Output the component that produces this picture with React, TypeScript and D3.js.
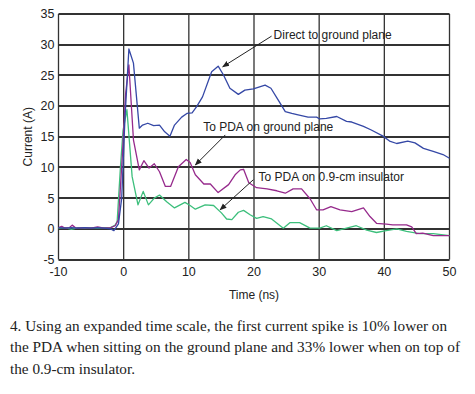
import React, { useEffect, useRef } from 'react';
import * as d3 from 'd3';

// time axis (ns) and current (A)
const directTime = [-10, -9, -8, -7, -6, -5, -4, -3, -2, -1.5, -0.8, -0.3, 0.2, 0.8, 1.5, 2.4, 2.9, 3.7, 4.6, 5.5, 6.3, 7.1, 7.8, 8.9, 9.7, 10.5, 11.2, 12.1, 13.5, 14.5, 15.3, 16.3, 17.6, 18.6, 19.9, 21.7, 22.6, 23.7, 24.8, 25.8, 26.6, 28.3, 29.6, 30.1, 31.1, 32.7, 34.2, 35, 36.8, 38, 39.8, 40.8, 41.9, 43.6, 44.7, 46, 47.5, 49, 50];
const directCurrent = [0.2, 0.1, 0.2, 0.1, 0.2, 0.1, 0.2, 0.1, 0, -0.3, 0.8, 5, 18, 29.3, 27, 16.4, 16.9, 17.2, 16.8, 16.9, 15.8, 15.1, 16.9, 18.2, 18.8, 18.9, 19.9, 21.5, 25.6, 26.5, 25.1, 22.9, 21.9, 22.6, 22.8, 23.4, 22.9, 21, 19.1, 18.8, 18.6, 18.2, 18.2, 17.9, 18, 18.3, 17.5, 17.4, 16.7, 16.1, 15.1, 14.3, 13.9, 14.3, 14, 13.1, 12.6, 12.1, 11.5];

const groundTime = [-10, -9.5, -9, -8.3, -7.9, -7.3, -6, -5, -4, -3, -2, -1.3, -0.8, -0.2, 0.3, 0.8, 1.5, 2.4, 3.1, 3.9, 4.7, 5.5, 6.4, 7.2, 8.4, 9.6, 10.2, 11, 12.3, 13.3, 14.5, 16.1, 17.1, 17.9, 18.4, 19.2, 20.4, 22, 23.5, 24.8, 26, 27.3, 28.6, 29.6, 30.6, 31.8, 33.2, 35, 36.8, 37.8, 38.8, 40.3, 41.3, 43.4, 44.2, 44.9, 45.9, 47.5, 50];
const groundCurrent = [0.2, 0.4, 0.1, 0.2, 0.6, 0.1, 0.2, 0.1, 0.3, 0.1, 0.2, 0.5, 1.5, 12, 22, 26.7, 14.5, 9.6, 11.1, 9.9, 10.6, 9.3, 6.9, 6.9, 10.1, 11.3, 10.8, 8.8, 7.3, 7.3, 5.9, 7.2, 8.8, 9.6, 9.7, 7.5, 6.7, 6.5, 6.2, 5.8, 6.5, 6.5, 4.9, 3.1, 3.1, 3.6, 3.1, 2.8, 3.4, 2, 0.9, 0.75, 0.65, 0.65, 0.3, -0.8, -0.7, -1.1, -1.1];

const insulTime = [-10, -9, -8, -7, -6, -5, -4, -3, -2, -1.3, -1, -0.5, -0.1, 0.5, 1.3, 2.2, 3, 3.8, 4.7, 5.5, 6.6, 7.8, 9.4, 10.2, 11, 12.5, 13.8, 15, 15.8, 16.6, 17.6, 18.4, 19.4, 20.4, 21.4, 22.7, 24.5, 25.5, 27, 28.6, 30.1, 31.1, 32.7, 34.2, 35.7, 37.3, 38.8, 40.3, 41.9, 43.4, 45.4, 47.5, 50];
const insulCurrent = [0.1, 0.2, -0.1, 0.2, 0.1, 0.2, 0.1, 0.2, 0.2, 0.6, 1.2, 10, 16, 19.4, 8.5, 3.9, 6.1, 3.9, 5, 5.5, 4.4, 3.4, 4.3, 3.8, 3.2, 3.9, 3.8, 2.6, 1.6, 1.5, 2.7, 3, 2.3, 1.7, 2, 1.6, 0.1, 1, 1, 0.1, 0.1, 0.5, -0.3, 0.1, 0.5, -0.2, -0.6, -0.3, 0, -0.4, -0.8, -0.8, -1.1];

const xTicks = [-10, 0, 10, 20, 30, 40, 50];
const yTicks = [-5, 0, 5, 10, 15, 20, 25, 30, 35];

const labels = ['Direct to ground plane', 'To PDA on ground plane', 'To PDA on 0.9-cm insulator'];
// label anchor [t, A], arrow start [t, A], arrow tip [t, A]
const labelAt = [[23.0, 31.6], [12.2, 16.6], [20.7, 8.4]];
const arrowFrom = [[22.7, 31.4], [15.6, 15.3], [19.9, 8.0]];
const arrowTo = [[15.2, 26.4], [11.0, 10.4], [14.8, 3.1]];

const caption = [
  '4. Using an expanded time scale, the first current spike is 10% lower on',
  'the PDA when sitting on the ground plane and 33% lower when on top of',
  'the 0.9-cm insulator.',
];

const W = 475, H = 394;
const margin = { top: 14, left: 58.5, right: 25.5, bottom: 134.5 };

export default function App() {
  const ref = useRef<SVGSVGElement>(null);

  useEffect(() => {
    document.body.style.margin = '0';
    const svg = d3.select(ref.current);
    svg.selectAll('*').remove();

    const x = d3.scaleLinear().domain([-10, 50]).range([margin.left, W - margin.right]);
    const y = d3.scaleLinear().domain([-5, 35]).range([H - margin.bottom, margin.top]);

    svg.append('rect').attr('width', W).attr('height', H).attr('fill', '#fff');

    const defs = svg.append('defs');
    defs.append('marker')
      .attr('id', 'arrow')
      .attr('viewBox', '0 0 10 10')
      .attr('refX', 9).attr('refY', 5)
      .attr('markerWidth', 7).attr('markerHeight', 7)
      .attr('markerUnits', 'userSpaceOnUse')
      .attr('orient', 'auto')
      .append('path').attr('d', 'M0,1 L10,5 L0,9 Z').attr('fill', '#222');

    // grid
    svg.append('path')
      .attr('fill', 'none').attr('stroke', '#333').attr('stroke-width', 1.3)
      .attr('d', xTicks.map(t => `M${x(t)},${y(35)}V${y(-5)}`).join(''));
    svg.append('path')
      .attr('fill', 'none').attr('stroke', '#333').attr('stroke-width', 2)
      .attr('d', yTicks.map(v => `M${x(-10)},${Math.round(y(v))}H${x(50)}`).join(''));

    const font = '"Liberation Sans", Arial, sans-serif';

    svg.append('g').selectAll('text').data(yTicks).join('text')
      .attr('x', margin.left - 4).attr('y', d => y(d)).attr('dy', '0.35em')
      .attr('text-anchor', 'end').attr('font-family', font).attr('font-size', 12.5)
      .attr('fill', '#222').text(d => String(d));

    svg.append('g').selectAll('text').data(xTicks).join('text')
      .attr('x', d => x(d)).attr('y', H - margin.bottom + 16)
      .attr('text-anchor', 'middle').attr('font-family', font).attr('font-size', 12.5)
      .attr('fill', '#222').text(d => String(d));

    svg.append('text')
      .attr('x', (x(-10) + x(50)) / 2).attr('y', H - margin.bottom + 39)
      .attr('text-anchor', 'middle').attr('font-family', font).attr('font-size', 12)
      .attr('fill', '#222').text('Time (ns)');

    svg.append('text')
      .attr('transform', `translate(31.5,${(y(-5) + y(35)) / 2}) rotate(-90)`)
      .attr('text-anchor', 'middle').attr('font-family', font).attr('font-size', 12)
      .attr('fill', '#222').text('Current (A)');

    const line = d3.line<[number, number]>().x(d => x(d[0])).y(d => y(d[1]));
    const series: [number[], number[], string][] = [
      [insulTime, insulCurrent, '#3dbf7c'],
      [groundTime, groundCurrent, '#962a8c'],
      [directTime, directCurrent, '#3548a6'],
    ];
    series.forEach(([ts, vs, color]) => {
      svg.append('path')
        .datum(ts.map((t, i) => [t, vs[i]] as [number, number]))
        .attr('fill', 'none').attr('stroke', color).attr('stroke-width', 1.3)
        .attr('stroke-linejoin', 'round')
        .attr('d', line);
    });

    // annotations
    labels.forEach((txt, i) => {
      svg.append('line')
        .attr('x1', x(arrowFrom[i][0])).attr('y1', y(arrowFrom[i][1]))
        .attr('x2', x(arrowTo[i][0])).attr('y2', y(arrowTo[i][1]))
        .attr('stroke', '#222').attr('stroke-width', 1)
        .attr('marker-end', 'url(#arrow)');
      svg.append('text')
        .attr('x', x(labelAt[i][0])).attr('y', y(labelAt[i][1])).attr('dy', '0.35em')
        .attr('font-family', font).attr('font-size', 12).attr('fill', '#222')
        .text(txt);
    });

    // caption
    const capWidths = [437, 450, 125];
    svg.append('g').selectAll('text').data(caption).join('text')
      .attr('x', 10).attr('y', (d, i) => 330.5 + i * 21.5)
      .attr('font-family', '"Liberation Serif", "Times New Roman", serif')
      .attr('font-size', 15.5).attr('fill', '#222')
      .attr('textLength', (d, i) => capWidths[i])
      .attr('lengthAdjust', 'spacingAndGlyphs')
      .text(d => d);
  }, []);

  return <svg ref={ref} width={W} height={H} style={{ display: 'block' }} />;
}
